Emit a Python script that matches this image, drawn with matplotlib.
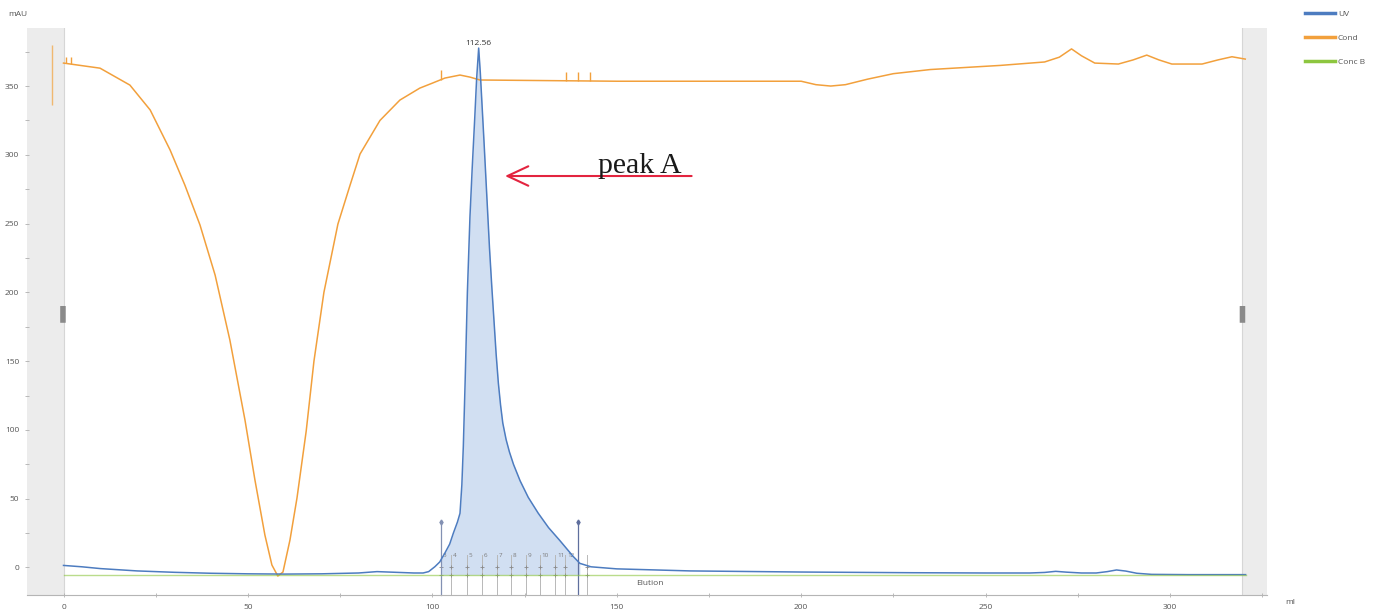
import numpy as np
import matplotlib
matplotlib.use("Agg")
import matplotlib.pyplot as plt
from matplotlib.patches import FancyBboxPatch
from matplotlib.ticker import MultipleLocator

# ---------------- data ----------------
uv_ml = [0, 5, 10, 20, 30, 40, 50, 60, 70, 80, 85, 90, 95, 97.5, 99, 100.7, 102,
         103.4, 104.7, 105.7, 106.8, 107.5, 108.0, 108.4, 108.9, 109.5, 110.2,
         110.8, 111.5, 112.0, 112.56, 113.0, 113.5, 114.0, 114.5, 115.0, 115.5,
         116.1, 116.7, 117.3, 117.9, 118.5, 119.1, 120.0, 120.9, 122.0, 123.8,
         126.0, 128.7, 131.5, 134.6, 138.2, 140.0, 143, 150, 170,
         200, 230, 250, 262, 266, 269, 272, 276, 280, 283, 285.5, 288, 291, 295,
         305, 320.5]
uv_mau = [1.5, 0.5, -0.8, -2.5, -3.5, -4.2, -4.6, -4.8, -4.6, -4.0, -3.0, -3.5,
          -4.0, -4.0, -3.0, 0.6, 4, 10.5, 17, 25, 33, 39.4, 60, 88, 136, 200, 255,
          290, 327, 355, 377.6, 360, 335, 310, 284, 258, 232,
          205, 180, 155, 134, 118, 105, 93, 84, 75, 63,
          51, 39.5, 29, 19.5, 8, 3, 0.5, -1, -2.5, -3.3, -3.8, -4, -4, -3.6,
          -2.8, -3.4, -4, -4, -3.0, -1.8, -2.6, -4.2, -5, -5.2, -5.2]

cond_ml = [0, 9.9, 18.0, 23.5, 28.9, 32.9, 37.0, 41.1, 45.1, 49.2, 51.9, 54.6,
           56.5, 58.1, 59.5, 61.4, 63.3, 65.8, 67.9, 70.6, 74.4, 77.7, 80.4,
           85.8, 91.2, 96.6, 99.9, 103.4, 107.5, 110.2, 112.9, 150, 200, 204,
           208, 212, 218, 225, 235, 254, 266, 270, 273.3, 276, 279.6, 286, 290,
           293.7, 297, 300.5, 308.7, 313, 316.8, 320.4]
cond_val = [366.7, 363, 350.7, 332.6, 303.5, 278, 249, 212.6, 165.4, 107.2, 63.6,
            23.6, 1.8, -6.2, -3.3, 20, 50.5, 99.2, 150, 200, 249.7, 278, 300.6,
            325, 339.8, 348.5, 352, 355.8, 358, 356.5, 354.4, 353.5, 353.5, 351,
            350, 351, 355, 359, 362, 365, 367.5, 371, 377, 372, 366.7, 366, 369,
            372.5, 369, 366, 366, 369, 371.3, 369.6]
cond_spike_ml = [0.7, 2.0, 102.4, 136.3, 139.5, 142.8]
cond_spike_top = [371, 371, 362, 360.5, 360.5, 360.5]
inject_ml = -3.1
inject_range = [336, 380]

concb_ml = [0, 320.5]
concb_pct = [0, 0]

peak_ml = 112.56
peak_label = "112.56"

frac_ml = [102.3, 105.0, 109.3, 113.4, 117.5, 121.3, 125.4, 129.2, 133.3, 136.0, 141.9]
frac_labels = ["3", "4", "5", "6", "7", "8", "9", "10", "11", "12", ""]
peak_limits_ml = [102.3, 139.4]

x_ticks = [0, 50, 100, 150, 200, 250, 300]
y_ticks = [0, 50, 100, 150, 200, 250, 300, 350]
series_names = ["UV", "Cond", "Conc B"]

# ---------------- styling ----------------
C_UV = "#4d7cc0"
C_COND = "#f2a03c"
C_CONCB = "#8dc63f"
C_FILL = "#c9daf0"
TXT = "#555555"

plt.rcParams["font.family"] = ["Open Sans", "DejaVu Sans"]

fig = plt.figure(figsize=(13.74, 6.13), dpi=100)
W, H = 1374, 613
ax = fig.add_axes([27 / W, (H - 595) / H, (1267 - 27) / W, (595 - 28) / H])
ax.set_xlim(-9.9, 326.3)
ax.set_ylim(-20, 392.2)

# side gray bands + handles
ax.axvspan(-9.9, 0, color="#ececec", zorder=0, lw=0)
ax.axvspan(319.6, 326.3, color="#ececec", zorder=0, lw=0)
ax.axvline(0, color="#d6d6d6", lw=0.8, zorder=0.5)
ax.axvline(319.6, color="#d6d6d6", lw=0.8, zorder=0.5)
for hx in (-0.8, 319.0):
    ax.add_patch(FancyBboxPatch((hx, 178), 1.3, 12, boxstyle="round,pad=0.1",
                                fc="#8a8a8a", ec="none", zorder=3))

# Conc B on its own (percent) scale
ax2 = ax.twinx()
ax2.set_position(ax.get_position())
ax2.set_ylim(-3.5, 96.5)
ax2.plot(concb_ml, concb_pct, color=C_CONCB, lw=1.0, alpha=0.6)
ax2.axis("off")

# peak fill
uv_x = np.array(uv_ml)
uv_y = np.array(uv_mau)
xf = np.linspace(peak_limits_ml[0], peak_limits_ml[1] + 0.6, 600)
yf = np.interp(xf, uv_x, uv_y)
ax.fill_between(xf, -5.5, yf, color=C_FILL, alpha=0.85, lw=0, zorder=1)

# fraction marks
for fm, fl in zip(frac_ml, frac_labels):
    ax.plot([fm, fm], [9, -20], color="#b8b8b8", lw=0.7, zorder=1.5, clip_on=False)
    ax.plot([fm], [0], marker="+", ms=3, color="#8a8a8a", mew=0.6, zorder=2)
    ax.plot([fm], [-5.5], marker="+", ms=3, color="#8a8a8a", mew=0.6, zorder=2)
    if fl:
        ax.text(fm + 0.5, 8.5, fl, fontsize=4.5, color="#7a7a7a", ha="left",
                va="center", zorder=2)
for pm, pc in zip(peak_limits_ml, ["#8391b3", "#5f6f9e"]):
    ax.plot([pm, pm], [33, -20], color=pc, lw=0.9, zorder=2.5, clip_on=False)
    ax.plot([pm], [33], marker="d", ms=2.5, color=pc, zorder=2.5)

# curves
ax.plot(cond_ml, cond_val, color=C_COND, lw=1.1, zorder=3, solid_joinstyle="round")
base = np.interp(cond_spike_ml, cond_ml, cond_val)
ax.vlines(cond_spike_ml, base, cond_spike_top, color=C_COND, lw=1.0, zorder=3)
ax.vlines([inject_ml], inject_range[0], inject_range[1], color="#f0b870", lw=1.0, zorder=3)
ax.plot(uv_ml, uv_mau, color=C_UV, lw=1.1, zorder=4, solid_joinstyle="round")

ax.text(peak_ml, 378.5, peak_label, fontsize=6, color="#333333", ha="center",
        va="bottom", zorder=5)
ax.text(159, -11.3, "Elution", fontsize=6, color="#555555", ha="center",
        va="center", zorder=5)

# annotation
ax.annotate("", xy=(119.7, 284.6), xytext=(170.3, 284.6),
            arrowprops=dict(arrowstyle="->,head_length=0.75,head_width=0.35",
                            color="#e3243f", lw=1.5, mutation_scale=20,
                            shrinkA=0, shrinkB=0), zorder=6)
ax.text(145.0, 286.5, "peak A", fontsize=21.5, family="Liberation Serif",
        color="#1a1a1a", ha="left", va="baseline", zorder=6)

# axes styling
for s in ("top", "right", "left"):
    ax.spines[s].set_visible(False)
ax.spines["bottom"].set_color("#b5b5b5")
ax.spines["bottom"].set_linewidth(0.8)
ax.set_xticks(x_ticks)
ax.set_yticks(y_ticks)
ax.xaxis.set_minor_locator(MultipleLocator(25))
ax.yaxis.set_minor_locator(MultipleLocator(25))
ax.tick_params(axis="both", which="both", colors="#b0b0b0", labelcolor=TXT,
               labelsize=6, length=3, width=0.6, direction="inout")
ax.tick_params(axis="x", pad=5)
ax.tick_params(axis="y", pad=4)

fig.text(18 / W, 1 - 15 / H, "mAU", fontsize=6, color=TXT, ha="center", va="center")
fig.text(1290 / W, 1 - 603 / H, "ml", fontsize=6, color=TXT, ha="center", va="center")

# legend
handles = [plt.Line2D([], [], color=c, lw=2.5) for c in (C_UV, C_COND, C_CONCB)]
fig.legend(handles, series_names, loc="upper left",
           bbox_to_anchor=(1302 / W, 1 - 7 / H), frameon=False, fontsize=6,
           handlelength=3.5, handletextpad=0.4, labelspacing=1.9,
           labelcolor=TXT, borderaxespad=0)

fig.savefig("out.png", dpi=100)
